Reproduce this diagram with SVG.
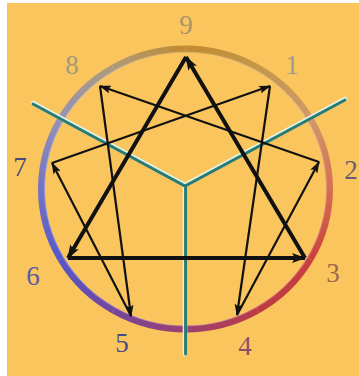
<svg xmlns="http://www.w3.org/2000/svg" width="359" height="376" viewBox="0 0 359 376">
<style>
.lbl{font-family:"Liberation Serif","Times New Roman",serif;font-size:27px;text-anchor:middle}
.thick{stroke:#111;stroke-width:4;fill:none;marker-end:url(#ahB)}
.thin{stroke:#111;stroke-width:2.2;fill:none;marker-end:url(#ahS)}
.ring{fill:none;stroke-width:7;stroke-linecap:butt}
.y1{stroke:#dff3e6;stroke-width:4.5;fill:none;stroke-linecap:round}
.y2{stroke:#287a72;stroke-width:3;fill:none;stroke-linecap:round}
</style>
<defs>
<marker id="ahB" markerUnits="userSpaceOnUse" markerWidth="14" markerHeight="10" refX="13" refY="5" orient="auto"><path d="M0,0 L14,5 L0,10 L3,5 z" fill="#111"/></marker>
<marker id="ahS" markerUnits="userSpaceOnUse" markerWidth="12" markerHeight="8" refX="11" refY="4" orient="auto"><path d="M0,0 L12,4 L0,8 L2.5,4 z" fill="#111"/></marker>
<linearGradient id="g0" gradientUnits="userSpaceOnUse" x1="185.5" y1="49" x2="257.5" y2="67.8"><stop offset="0" stop-color="#c08a30"/><stop offset="1" stop-color="#c49848"/></linearGradient>
<linearGradient id="g1" gradientUnits="userSpaceOnUse" x1="257.5" y1="67.8" x2="310.2" y2="119"><stop offset="0" stop-color="#c49848"/><stop offset="1" stop-color="#d09868"/></linearGradient>
<linearGradient id="g2" gradientUnits="userSpaceOnUse" x1="310.2" y1="119" x2="329.5" y2="189"><stop offset="0" stop-color="#d09868"/><stop offset="1" stop-color="#d47050"/></linearGradient>
<linearGradient id="g3" gradientUnits="userSpaceOnUse" x1="329.5" y1="189" x2="310.2" y2="259"><stop offset="0" stop-color="#d47050"/><stop offset="1" stop-color="#c8403c"/></linearGradient>
<linearGradient id="g4" gradientUnits="userSpaceOnUse" x1="310.2" y1="259" x2="257.5" y2="310.2"><stop offset="0" stop-color="#c8403c"/><stop offset="1" stop-color="#bc3a44"/></linearGradient>
<linearGradient id="g5" gradientUnits="userSpaceOnUse" x1="257.5" y1="310.2" x2="185.5" y2="329"><stop offset="0" stop-color="#bc3a44"/><stop offset="1" stop-color="#9a4070"/></linearGradient>
<linearGradient id="g6" gradientUnits="userSpaceOnUse" x1="185.5" y1="329" x2="113.5" y2="310.2"><stop offset="0" stop-color="#9a4070"/><stop offset="1" stop-color="#74469c"/></linearGradient>
<linearGradient id="g7" gradientUnits="userSpaceOnUse" x1="113.5" y1="310.2" x2="60.8" y2="259"><stop offset="0" stop-color="#74469c"/><stop offset="1" stop-color="#5458c8"/></linearGradient>
<linearGradient id="g8" gradientUnits="userSpaceOnUse" x1="60.8" y1="259" x2="41.5" y2="189"><stop offset="0" stop-color="#5458c8"/><stop offset="1" stop-color="#7474c4"/></linearGradient>
<linearGradient id="g9" gradientUnits="userSpaceOnUse" x1="41.5" y1="189" x2="60.8" y2="119"><stop offset="0" stop-color="#7474c4"/><stop offset="1" stop-color="#9692b4"/></linearGradient>
<linearGradient id="g10" gradientUnits="userSpaceOnUse" x1="60.8" y1="119" x2="113.5" y2="67.8"><stop offset="0" stop-color="#9692b4"/><stop offset="1" stop-color="#ae9a78"/></linearGradient>
<linearGradient id="g11" gradientUnits="userSpaceOnUse" x1="113.5" y1="67.8" x2="185.5" y2="49"><stop offset="0" stop-color="#ae9a78"/><stop offset="1" stop-color="#c08a30"/></linearGradient>
</defs>
<rect x="0" y="0" width="359" height="376" fill="#ffffff"/>
<rect x="7" y="3" width="352" height="373" fill="#fbc55e"/>
<g id="ring">
<path class="ring" stroke="url(#g0)" d="M185.5,49 A144,140 0 0 1 257.5,67.8"/>
<path class="ring" stroke="url(#g1)" d="M257.5,67.8 A144,140 0 0 1 310.2,119"/>
<path class="ring" stroke="url(#g2)" d="M310.2,119 A144,140 0 0 1 329.5,189"/>
<path class="ring" stroke="url(#g3)" d="M329.5,189 A144,140 0 0 1 310.2,259"/>
<path class="ring" stroke="url(#g4)" d="M310.2,259 A144,140 0 0 1 257.5,310.2"/>
<path class="ring" stroke="url(#g5)" d="M257.5,310.2 A144,140 0 0 1 185.5,329"/>
<path class="ring" stroke="url(#g6)" d="M185.5,329 A144,140 0 0 1 113.5,310.2"/>
<path class="ring" stroke="url(#g7)" d="M113.5,310.2 A144,140 0 0 1 60.8,259"/>
<path class="ring" stroke="url(#g8)" d="M60.8,259 A144,140 0 0 1 41.5,189"/>
<path class="ring" stroke="url(#g9)" d="M41.5,189 A144,140 0 0 1 60.8,119"/>
<path class="ring" stroke="url(#g10)" d="M60.8,119 A144,140 0 0 1 113.5,67.8"/>
<path class="ring" stroke="url(#g11)" d="M113.5,67.8 A144,140 0 0 1 185.5,49"/>
<ellipse cx="185.5" cy="189" rx="141" ry="137" fill="none" stroke="#ffffff" stroke-opacity="0.25" stroke-width="1.2"/>
</g>
<g id="axes">
<path class="y1" d="M33,103 L185,185 L345,99 M185,185 L185,354"/>
<path class="y2" d="M33,104 L185,186 L345,100 M185.6,186 L185.6,354"/>
</g>
<g id="connectors">
<line class="thick" x1="186" y1="57" x2="68" y2="258"/>
<line class="thick" x1="68" y1="258" x2="305" y2="258"/>
<line class="thick" x1="305" y1="258" x2="186" y2="57"/>
<line class="thin" x1="270" y1="86" x2="237" y2="315"/>
<line class="thin" x1="237" y1="315" x2="319" y2="162"/>
<line class="thin" x1="319" y1="162" x2="100" y2="86"/>
<line class="thin" x1="100" y1="86" x2="131" y2="316"/>
<line class="thin" x1="131" y1="316" x2="52" y2="163"/>
<line class="thin" x1="52" y1="163" x2="270" y2="86"/>
</g>
<g id="n9"><text class="lbl" x="186" y="34" fill="#a8946a">9</text></g>
<g id="n1"><text class="lbl" x="292" y="74" fill="#a09c8c">1</text></g>
<g id="n2"><text class="lbl" x="351" y="179" fill="#6a5a78">2</text></g>
<g id="n3"><text class="lbl" x="333" y="282" fill="#9a6a50">3</text></g>
<g id="n4"><text class="lbl" x="245" y="355" fill="#8a5068">4</text></g>
<g id="n5"><text class="lbl" x="122" y="352" fill="#4a4a8a">5</text></g>
<g id="n6"><text class="lbl" x="33" y="285" fill="#5a5aa8">6</text></g>
<g id="n7"><text class="lbl" x="20" y="176" fill="#4a4a78">7</text></g>
<g id="n8"><text class="lbl" x="72" y="74" fill="#a09a7a">8</text></g>
</svg>
